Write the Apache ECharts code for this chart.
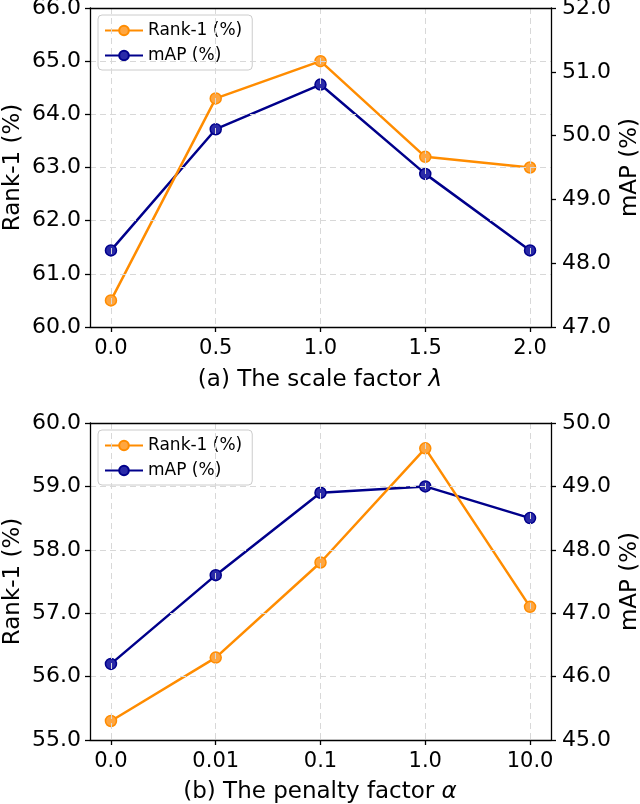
<!DOCTYPE html>
<html>
<head>
<meta charset="utf-8">
<script src="https://cdn.jsdelivr.net/npm/echarts@6/dist/echarts.min.js"></script>
<style>html,body{margin:0;padding:0;background:#fff}#c{width:640px;height:804px}</style>
</head>
<body>
<div id="c"></div>
<script>
const xLabelsA = ['0.0', '0.5', '1.0', '1.5', '2.0'];
const rankA = [60.5, 64.3, 65.0, 63.2, 63.0];
const mapA = [48.2, 50.1, 50.8, 49.4, 48.2];
const xLabelsB = ['0.0', '0.01', '0.1', '1.0', '10.0'];
const rankB = [55.3, 56.3, 57.8, 59.6, 57.1];
const mapB = [46.2, 47.6, 48.9, 49.0, 48.5];
const titleA = '(a) The scale factor ';
const titleB = '(b) The penalty factor ';

const FONT = 'DejaVu Sans';
const ORANGE = '#ff8c00';
const BLUE = '#00008b';
const idx = [0, 1, 2, 3, 4];

function xAxis(gi, labels) {
  return {
    type: 'value', gridIndex: gi, min: -0.2, max: 4.2, position: 'bottom',
    axisLine: {show: true, onZero: false, lineStyle: {color: '#000', width: 1.3}},
    axisTick: {show: true, customValues: idx, length: 5, lineStyle: {color: '#000', width: 1.3}},
    axisLabel: {customValues: idx, formatter: v => labels[Math.round(v)], color: '#000', fontFamily: FONT, fontSize: 21, margin: 11},
    splitLine: {show: true, lineStyle: {color: '#d8d8d8', type: [6, 4], width: 1}},
    z: 5
  };
}
function xTop(gi) {
  return {
    type: 'value', gridIndex: gi, min: -0.2, max: 4.2, position: 'top',
    axisLine: {show: true, onZero: false, lineStyle: {color: '#000', width: 1.3}},
    axisTick: {show: false}, axisLabel: {show: false}, splitLine: {show: false},
    z: 5
  };
}
function yAxis(gi, pos, min, max, name, grid) {
  return {
    type: 'value', gridIndex: gi, position: pos, min: min, max: max, interval: 1,
    name: name, nameLocation: 'middle', nameGap: pos === 'left' ? 65 : 68, nameMoveOverlap: false,
    nameTextStyle: {color: '#000', fontFamily: FONT, fontSize: 23},
    axisLine: {show: true, onZero: false, lineStyle: {color: '#000', width: 1.3}},
    axisTick: {show: true, length: 5, lineStyle: {color: '#000', width: 1.3}},
    axisLabel: {formatter: v => v.toFixed(1), color: '#000', fontFamily: FONT, fontSize: 22, margin: pos === 'left' ? 9 : 11},
    splitLine: {show: grid, lineStyle: {color: '#d8d8d8', type: [6, 4], width: 1}},
    z: 5
  };
}
function series(name, data, color, light, xi, yi) {
  return {
    name: name, type: 'line', xAxisIndex: xi, yAxisIndex: yi,
    data: data.map((v, i) => [idx[i], v]),
    symbol: 'circle', symbolSize: 11,
    lineStyle: {color: color, width: 2.5},
    itemStyle: {color: light, borderColor: color, borderWidth: 1.5},
    emphasis: {disabled: true}, z: yi % 2 === 0 ? 3 : 2
  };
}
function legend(top) {
  return {
    left: 98, top: top, orient: 'vertical',
    data: ['Rank-1 (%)', 'mAP (%)'],
    itemWidth: 38, itemHeight: 12, itemGap: 8,
    padding: [7, 10, 6, 6],
    borderColor: '#cccccc', borderWidth: 1, borderRadius: 4,
    backgroundColor: 'rgba(255,255,255,0.85)',
    textStyle: {color: '#000', fontFamily: FONT, fontSize: 17},
    selectedMode: false
  };
}
const chart = echarts.init(document.getElementById('c'), null, {renderer: 'canvas'});
chart.setOption({
  animation: false,
  backgroundColor: '#fff',
  grid: [
    {left: 90, right: 89, top: 8, height: 319, outerBoundsMode: 'none', containLabel: false},
    {left: 90, right: 89, top: 423, height: 317, outerBoundsMode: 'none', containLabel: false}
  ],
  title: [
    {text: titleA + '{i|λ}', left: 'center', top: 364,
     textStyle: {color: '#000', fontFamily: FONT, fontSize: 23, fontWeight: 'normal', rich: {i: {fontFamily: FONT, fontSize: 23, fontStyle: 'italic', color: '#000'}}}},
    {text: titleB + '{i|α}', left: 'center', top: 776,
     textStyle: {color: '#000', fontFamily: FONT, fontSize: 23, fontWeight: 'normal', rich: {i: {fontFamily: FONT, fontSize: 23, fontStyle: 'italic', color: '#000'}}}}
  ],
  legend: [legend(15), legend(430)],
  xAxis: [xAxis(0, xLabelsA), xAxis(1, xLabelsB), xTop(0), xTop(1)],
  yAxis: [
    yAxis(0, 'left', 60, 66, 'Rank-1 (%)', true),
    yAxis(0, 'right', 47, 52, 'mAP (%)', false),
    yAxis(1, 'left', 55, 60, 'Rank-1 (%)', true),
    yAxis(1, 'right', 45, 50, 'mAP (%)', false)
  ],
  series: [
    series('Rank-1 (%)', rankA, ORANGE, '#ffa640', 0, 0),
    series('mAP (%)', mapA, BLUE, '#2a2aa8', 0, 1),
    series('Rank-1 (%)', rankB, ORANGE, '#ffa640', 1, 2),
    series('mAP (%)', mapB, BLUE, '#2a2aa8', 1, 3)
  ]
});
</script>
</body>
</html>
